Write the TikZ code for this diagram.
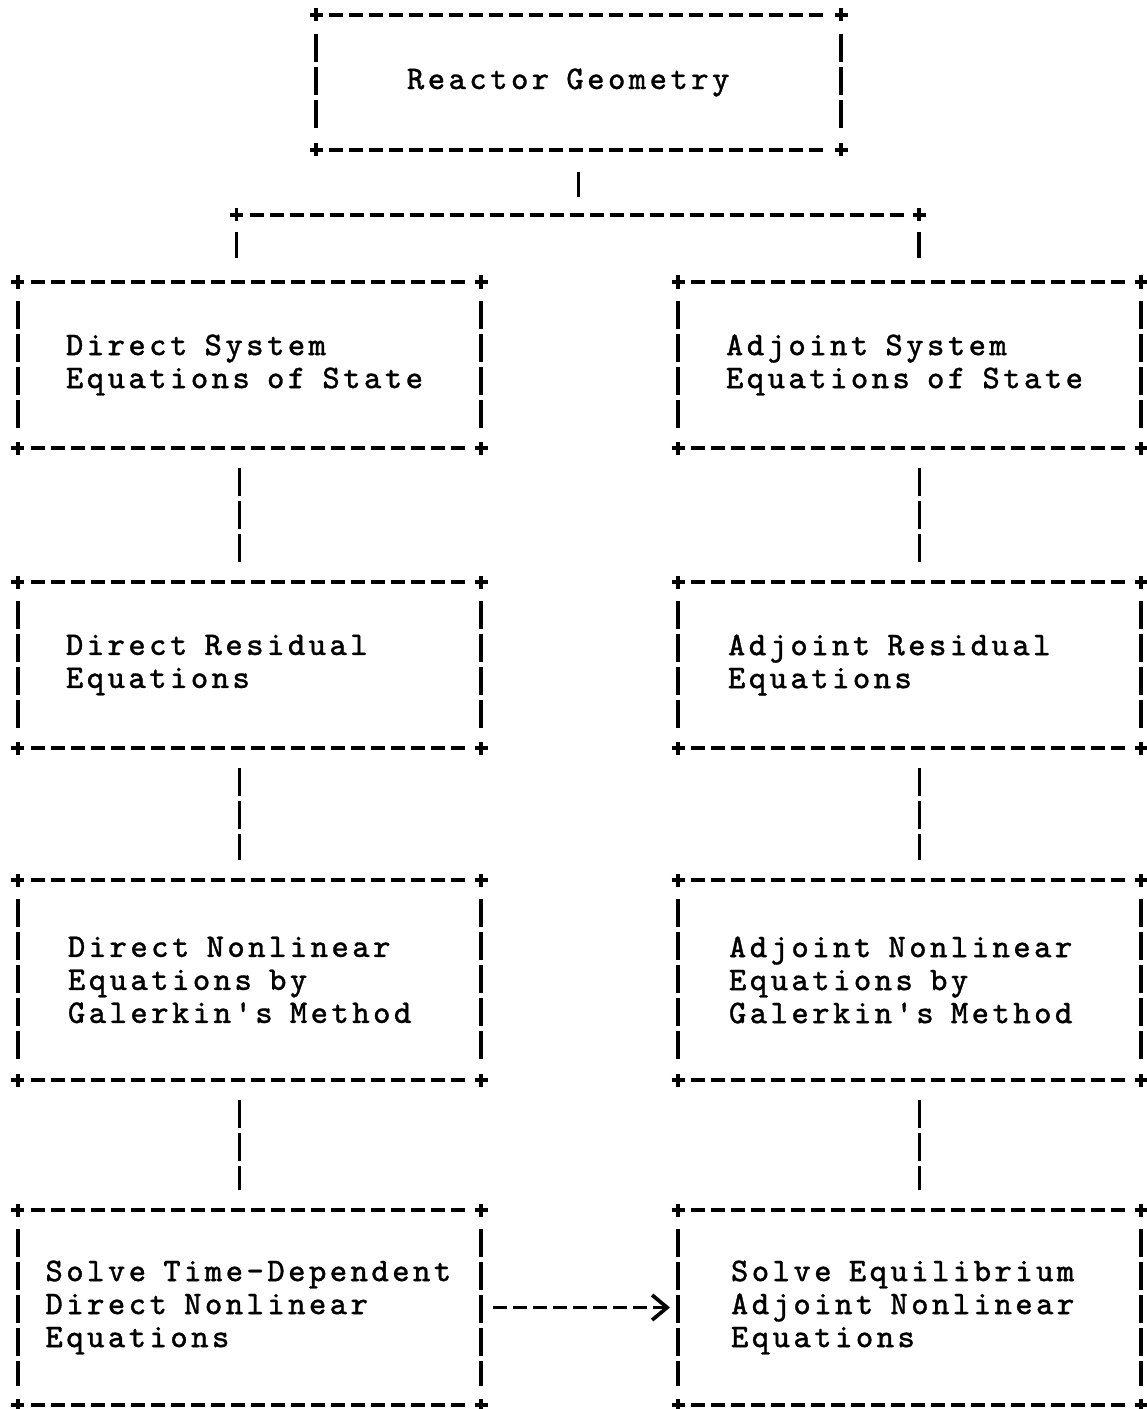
\documentclass[tikz,border=0pt]{standalone}
\usepackage{fontspec}
\setmonofont{Latin Modern Mono}[FakeBold=1,LetterSpace=10.5]
\usepackage{tikz}
\usetikzlibrary{arrows.meta}
\newcommand{\boxfont}{\ttfamily\fontsize{9.4}{9.39}\selectfont\spaceskip=4.9pt\relax}
\newcommand{\asciiplus}[1]{\draw[plusmark] (#1) +(-0.065,0) -- +(0.065,0) +(0,-0.065) -- +(0,0.065);}
\newcommand{\asciibox}[1]{%
  \draw[hdash] (#1.north west) -- (#1.north east);
  \draw[hdash] (#1.south west) -- (#1.south east);
  \draw[vdash] (#1.north west) -- (#1.south west);
  \draw[vdash] (#1.north east) -- (#1.south east);
  \foreach \c in {north west,north east,south west,south east} {\asciiplus{#1.\c}}%
}

\begin{document}
\begin{tikzpicture}[>={Straight Barb[length=0.15cm,width=0.25cm]},line width=1.05pt,node distance=3cm,
  box/.style={draw=none,inner sep=0pt,outer sep=0pt,minimum width=4.63cm,minimum height=1.66cm,
              align=flush left,font=\boxfont},
  hdash/.style={dash pattern=on 0.14cm off 0.06cm,shorten <=0.13cm,shorten >=0.13cm},
  vdash/.style={dash pattern=on 0.28cm off 0.05cm,shorten <=0.19cm,shorten >=0.19cm},
  vlink/.style={vdash,shorten <=0.2cm,shorten >=0.2cm},
  plusmark/.style={solid,line cap=butt}]
  \useasboundingbox (0,0) rectangle (11.46,-14.09);

  \node[box,minimum width=5.25cm,minimum height=1.35cm,text width=3.43cm] (geom) at (5.785,-0.825) {Reactor Geometry};

  \node[box,text width=3.67cm]                                            (dsys) at (2.495,-3.65) {Direct System\\Equations of State};
  \node[box,text width=3.67cm,node distance=6.6cm,right of=dsys]          (asys) {Adjoint System\\Equations of State};
  \node[box,text width=3.67cm,below of=dsys]                              (dres) {Direct Residual\\Equations};
  \node[box,text width=3.63cm,node distance=6.6cm,right of=dres]          (ares) {Adjoint Residual\\Equations};
  \node[box,minimum height=2cm,text width=3.63cm,node distance=3.15cm,below of=dres]     (dnl)  {Direct Nonlinear\\Equations by\\Galerkin's Method};
  \node[box,minimum height=2cm,text width=3.61cm,node distance=6.6cm,right of=dnl]       (anl)  {Adjoint Nonlinear\\Equations by\\Galerkin's Method};
  \node[box,minimum height=1.95cm,text width=4.08cm,node distance=3.275cm,below of=dnl]  (dsol) {Solve Time-Dependent\\Direct Nonlinear\\Equations};
  \node[box,minimum height=1.95cm,text width=3.57cm,node distance=6.6cm,right of=dsol]   (asol) {Solve Equilibrium\\Adjoint Nonlinear\\Equations};

  % ascii style frames
  \foreach \b in {geom,dsys,asys,dres,ares,dnl,anl,dsol,asol} {\asciibox{\b}}

  % fork below the geometry box
  \coordinate (split)  at (5.785,-2.15);
  \coordinate (lsplit) at (2.365,-2.15);
  \coordinate (rsplit) at (9.19,-2.15);
  \draw[vdash,shorten <=0.22cm,shorten >=0.18cm] (geom.south) -- (split);
  \draw[hdash] (lsplit) -- (rsplit);
  \asciiplus{lsplit}
  \asciiplus{rsplit}
  \draw[vdash,shorten <=0.17cm,shorten >=0.24cm] (lsplit) -- (lsplit |- dsys.north);
  \draw[vdash,shorten <=0.17cm,shorten >=0.24cm] (rsplit) -- (rsplit |- asys.north);

  % columns
  \foreach \a/\b in {dsys/dres,dres/dnl,dnl/dsol}
    \draw[vlink] ([xshift=-1mm]\a.south) -- ([xshift=-1mm]\b.north);
  \foreach \a/\b in {asys/ares,ares/anl,anl/asol}
    \draw[vlink] ([xshift=1mm]\a.south) -- ([xshift=1mm]\b.north);

  \draw[->,dash pattern=on 0.14cm off 0.06cm,shorten <=0.12cm,shorten >=0.08cm] (dsol) -- (asol);
\end{tikzpicture}
\end{document}
